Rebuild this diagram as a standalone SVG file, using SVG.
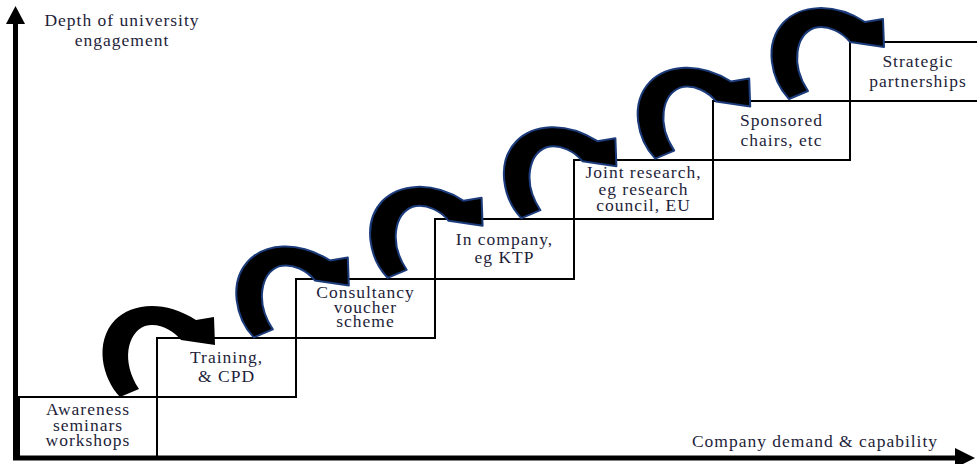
<svg xmlns="http://www.w3.org/2000/svg" width="977" height="464" viewBox="0 0 977 464">
<defs>
<style>
.box{fill:#fff;stroke:#000;stroke-width:2}
.t{font-family:"Liberation Serif","Times New Roman",serif;font-size:17.5px;letter-spacing:1px;fill:#1e1e3a;text-anchor:middle}
.arr{fill:#000}
.arrb{fill:#000;stroke:#1b3b7b;stroke-width:2;stroke-linejoin:round}
.ax{stroke:#000;stroke-width:5;fill:none}
</style>
<path id="ca" d="M 120 397 C 102 378 94 342 115 320 C 131 304 163 299 196 320 L 214 317 L 215 345 L 181 340 C 174 331 159 322 145 326 C 127 333 121 362 139 389 Z"/>
</defs>
<rect width="977" height="464" fill="#fff"/>
<g id="steps">
<g id="n1"><rect class="box" x="19" y="397" width="138" height="60"/>
<text class="t" x="88" y="415">Awareness</text><text class="t" x="88" y="430.5">seminars</text><text class="t" x="88" y="446">workshops</text></g>
<g id="n2"><rect class="box" x="157" y="338" width="139" height="59"/>
<text class="t" x="226.5" y="363">Training,</text><text class="t" x="226.5" y="382">&amp; CPD</text></g>
<g id="n3"><rect class="box" x="296" y="279" width="139" height="59"/>
<text class="t" x="365.5" y="298">Consultancy</text><text class="t" x="365.5" y="312.5">voucher</text><text class="t" x="365.5" y="327">scheme</text></g>
<g id="n4"><rect class="box" x="435" y="219" width="139" height="60"/>
<text class="t" x="504.5" y="245">In company,</text><text class="t" x="504.5" y="263">eg KTP</text></g>
<g id="n5"><rect class="box" x="574" y="160" width="139" height="59"/>
<text class="t" x="643.5" y="178">Joint research,</text><text class="t" x="643.5" y="195">eg research</text><text class="t" x="643.5" y="211">council, EU</text></g>
<g id="n6"><rect class="box" x="713" y="101" width="137" height="59"/>
<text class="t" x="781.5" y="126">Sponsored</text><text class="t" x="781.5" y="146">chairs, etc</text></g>
<g id="n7"><rect class="box" x="850" y="42" width="140" height="59"/>
<text class="t" x="918" y="66.5">Strategic</text><text class="t" x="918" y="87">partnerships</text></g>
</g>
<g id="connectors">
<use href="#ca" class="arr"/>
<use href="#ca" class="arrb" transform="translate(133.8,-59.6)"/>
<use href="#ca" class="arrb" transform="translate(267.6,-119.2)"/>
<use href="#ca" class="arrb" transform="translate(401.4,-178.8)"/>
<use href="#ca" class="arrb" transform="translate(535.2,-238.4)"/>
<use href="#ca" class="arrb" transform="translate(669,-298)"/>
</g>
<g id="axes">
<line class="ax" x1="15.5" y1="460" x2="15.5" y2="20"/>
<polygon points="15.5,6 25,24 6,24" fill="#000"/>
<line class="ax" x1="13" y1="458" x2="957" y2="458"/>
<polygon points="975,458 955,448 955,468" fill="#000"/>
<text class="t" x="815" y="447">Company demand &amp; capability</text>
<text class="t" x="122" y="26">Depth of university</text>
<text class="t" x="122" y="46">engagement</text>
</g>
</svg>
